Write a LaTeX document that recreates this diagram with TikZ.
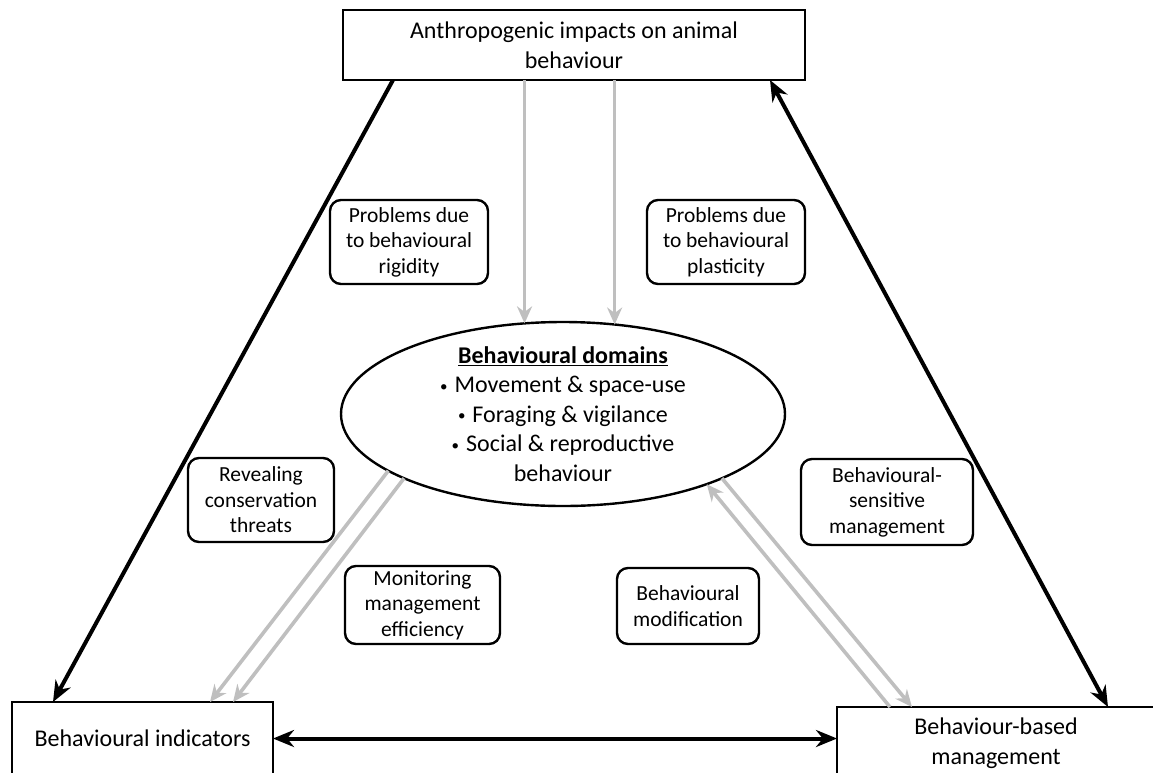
\documentclass[tikz,border=0pt]{standalone}
\usepackage{fontspec}
\setmainfont{Carlito}
\usetikzlibrary{arrows.meta,shapes.geometric}

\newcommand{\dombullet}{{\fontsize{15}{15}\selectfont\raisebox{1.5pt}{\textbullet}}\hspace{7pt}}

\tikzset{
	bigbox/.style={draw, line width=2.8pt, inner sep=0pt, outer sep=0pt, align=center, font=\fontsize{24}{30}\selectfont},
	lbl/.style={draw, line width=2.4pt, rounded corners=11pt, inner sep=0pt, outer sep=0pt, minimum height=84pt, align=center, font=\fontsize{21.5}{25.5}\selectfont},
	blk/.style={line width=4pt, -{Stealth[length=21pt,width=17pt]}},
	blkboth/.style={line width=4pt, {Stealth[length=21pt,width=17pt]}-{Stealth[length=21pt,width=17pt]}},
	gry/.style={line width=3.6pt, black!25, -{Stealth[length=17pt,width=15pt]}},
}

\begin{document}
\begin{tikzpicture}[x=1pt, y=-1pt]
			%%%%% START %%%%%
			\useasboundingbox (0,0) rectangle (1153,772);
			\clip (0,0) rectangle (1153,772);
			
			\node[bigbox, minimum width=462pt, minimum height=70pt] (anthro) at (574,45) {Anthropogenic impacts on animal\\behaviour};
			\node[bigbox, minimum width=261pt, minimum height=73pt] (indic) at (142.5,738.5) {Behavioural indicators};
			\node[bigbox, minimum width=318pt, minimum height=72pt] (mgmt) at (996,743) {Behaviour-based\\management};
			
			\node[draw, ellipse, line width=2.4pt, minimum width=444pt, minimum height=184pt, inner sep=0pt, outer sep=0pt] (dom) at (563,414) {};
			\node[align=center, font=\fontsize{24}{29.5}\selectfont] (domtxt) at (dom.center) {\underline{\textbf{Behavioural domains}}\\
				\dombullet Movement \& space-use\\
				\dombullet Foraging \& vigilance\\
				\dombullet Social \& reproductive\\
				behaviour};
			
			\node[lbl, minimum width=158pt] (rigid) at (409,242) {Problems due\\to behavioural\\rigidity};
			\node[lbl, minimum width=158pt] (plast) at (726,242) {Problems due\\to behavioural\\plasticity};
			\node[lbl, minimum width=146pt] (reveal) at (261,500) {Revealing\\conservation\\threats};
			\node[lbl, minimum width=155pt, minimum height=78pt] (monit) at (422.5,605) {Monitoring\\management\\efficiency};
			\node[lbl, minimum width=142pt, minimum height=76pt] (modif) at (688,606) {Behavioural\\modification};
			\node[lbl, minimum width=172pt, minimum height=86pt] (sensit) at (887,502) {Behavioural-\\sensitive\\management};
			
			% black arrows
			\draw[blk] ([xshift=-181pt]anthro.south) -- ([xshift=-89.5pt]indic.north);
			\draw[blkboth] ([xshift=196pt]anthro.south) -- ([xshift=112pt]mgmt.north);
			\draw[blkboth] (indic.east) -- (indic.east -| mgmt.west);
			
			% grey arrows
			\draw[gry] (dom.113.8 |- anthro.south) -- (dom.113.8);
			\draw[gry] (dom.60.8 |- anthro.south) -- (dom.60.8);
			\draw[gry] (dom.198.4) -- ([xshift=67.5pt]indic.north);
			\draw[gry] (dom.202.2) -- ([xshift=90.5pt]indic.north);
			\draw[gry] ([xshift=-106pt]mgmt.north) -- (dom.334.1);
			\draw[gry] (dom.338.1) -- ([xshift=-84pt]mgmt.north);
			
			%%%%% END %%%%%
\end{tikzpicture}
\end{document}
